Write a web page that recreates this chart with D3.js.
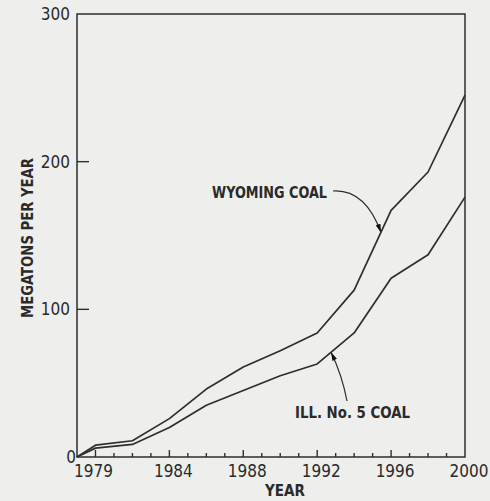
<!DOCTYPE html>
<html>
<head>
<meta charset="utf-8">
<script src="https://cdn.jsdelivr.net/npm/d3@7"></script>
<style>
  html, body { margin: 0; padding: 0; background: #eeeeec; }
  svg { display: block; }
  text { font-family: "Liberation Sans Narrow", "DejaVu Sans Condensed", "Arial Narrow", "Liberation Sans", sans-serif; fill: #2a2a2a; }
</style>
</head>
<body>
<svg id="chart" width="490" height="501"></svg>
<script>
// ---- data ----
const years      = [1979, 1980, 1982, 1984, 1986, 1988, 1990, 1992, 1994, 1996, 1998, 2000];
const wyomingCoal = [0, 8, 11, 26, 46, 61, 72, 84, 113, 167, 193, 245];
const illinoisCoal = [0, 6, 8.5, 20, 35, 45, 55, 63, 84, 121, 137, 176];
const xTickLabels = [1979, 1984, 1988, 1992, 1996, 2000];
const yTickLabels = [0, 100, 200, 300];
const seriesNames = ["WYOMING COAL", "ILL. No. 5 COAL"];
const xTitle = "YEAR";
const yTitle = "MEGATONS PER YEAR";

// ---- layout ----
const svg = d3.select("#chart");
const pLeft = 77, pRight = 465, pTop = 14, pBottom = 457;
const x = d3.scaleLinear().domain([1979, 2000]).range([pLeft, pRight]);
const y = d3.scaleLinear().domain([0, 300]).range([pBottom, pTop]);
const ink = "#2e2e2e";

// frame
svg.append("rect")
  .attr("x", pLeft).attr("y", pTop)
  .attr("width", pRight - pLeft).attr("height", pBottom - pTop)
  .attr("fill", "none").attr("stroke", ink).attr("stroke-width", 1.5);

// x axis ticks (inward), every year; taller every 4 years
const minorYears = d3.range(1980, 2000);
svg.append("g").selectAll("line").data(minorYears).join("line")
  .attr("x1", d => x(d)).attr("x2", d => x(d))
  .attr("y1", pBottom)
  .attr("y2", d => pBottom - ((d % 4 === 0) ? 7 : 4))
  .attr("stroke", ink).attr("stroke-width", 1.4);

// x tick labels
svg.append("g").selectAll("text").data(xTickLabels).join("text")
  .attr("x", d => d === 1979 ? x(d) - 3 : x(d) + 4)
  .attr("y", 477)
  .attr("text-anchor", d => d === 1979 ? "start" : "middle")
  .attr("font-size", 17)
  .text(d => d);

// y ticks (inward)
svg.append("g").selectAll("line").data(yTickLabels.filter(d => d > 0 && d < 300)).join("line")
  .attr("x1", pLeft).attr("x2", pLeft + 12)
  .attr("y1", d => y(d)).attr("y2", d => y(d))
  .attr("stroke", ink).attr("stroke-width", 1.4);

// y tick labels
svg.append("g").selectAll("text").data(yTickLabels).join("text")
  .attr("x", d => d === 0 ? pLeft - 1 : pLeft - 7)
  .attr("y", d => y(d) + 6)
  .attr("text-anchor", "end")
  .attr("font-size", 17)
  .text(d => d);

// lines
const line = d3.line().x(d => x(d[0])).y(d => y(d[1]));
[wyomingCoal, illinoisCoal].forEach(vals => {
  svg.append("path")
    .datum(years.map((yr, i) => [yr, vals[i]]))
    .attr("d", line)
    .attr("fill", "none")
    .attr("stroke", ink)
    .attr("stroke-width", 1.7)
    .attr("stroke-linejoin", "round");
});

// arrow marker
svg.append("defs").append("marker")
  .attr("id", "arr").attr("viewBox", "0 0 10 6")
  .attr("refX", 10).attr("refY", 3)
  .attr("markerWidth", 9).attr("markerHeight", 5)
  .attr("markerUnits", "userSpaceOnUse")
  .attr("orient", "auto")
  .append("path").attr("d", "M0,0 L10,3 L0,6 Z").attr("fill", "#111");

// annotations
function interp(vals, yr) {
  return d3.scaleLinear().domain(years).range(vals)(yr);
}
const wyYr = 1995.45, ilYr = 1992.75;
const wx = x(wyYr), wy = y(interp(wyomingCoal, wyYr));
const ix = x(ilYr), iy = y(interp(illinoisCoal, ilYr));

svg.append("path")
  .attr("d", `M333,191 Q365,189 ${wx},${wy}`)
  .attr("fill", "none").attr("stroke", ink).attr("stroke-width", 1.2)
  .attr("marker-end", "url(#arr)");
svg.append("path")
  .attr("d", `M347,401 Q342,375 ${ix},${iy}`)
  .attr("fill", "none").attr("stroke", ink).attr("stroke-width", 1.2)
  .attr("marker-end", "url(#arr)");

svg.append("text")
  .attr("x", 212).attr("y", 198)
  .attr("font-size", 15).attr("font-weight", "bold")
  .attr("textLength", 115).attr("lengthAdjust", "spacingAndGlyphs")
  .text(seriesNames[0]);
svg.append("text")
  .attr("x", 295).attr("y", 418)
  .attr("font-size", 15).attr("font-weight", "bold")
  .attr("textLength", 115).attr("lengthAdjust", "spacingAndGlyphs")
  .text(seriesNames[1]);

// axis titles
svg.append("text")
  .attr("x", 285).attr("y", 496)
  .attr("text-anchor", "middle")
  .attr("font-size", 15).attr("font-weight", "bold")
  .attr("textLength", 40).attr("lengthAdjust", "spacingAndGlyphs")
  .text(xTitle);
svg.append("text")
  .attr("transform", "translate(33,238) rotate(-90)")
  .attr("text-anchor", "middle")
  .attr("font-size", 15).attr("font-weight", "bold")
  .attr("textLength", 160).attr("lengthAdjust", "spacingAndGlyphs")
  .text(yTitle);
</script>
</body>
</html>
